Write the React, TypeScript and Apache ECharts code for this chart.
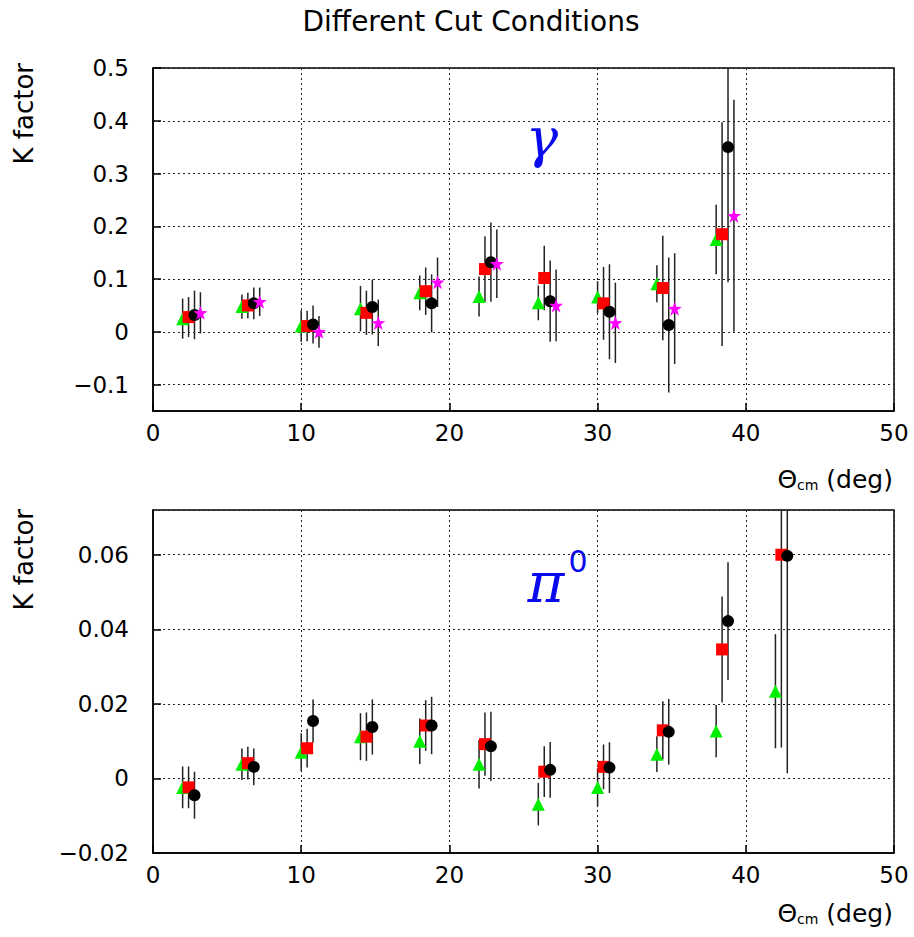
import React, { useEffect, useRef } from "react";
import * as echarts from "echarts";

// ---------- gamma panel data ----------
const gammaTriX = [2.0, 6.0, 10.0, 14.0, 18.0, 22.0, 26.0, 30.0, 34.0, 38.0];
const gammaTriY = [0.025, 0.048, 0.011, 0.044, 0.074, 0.067, 0.055, 0.066, 0.091, 0.175];
const gammaTriE = [0.038, 0.023, 0.030, 0.043, 0.033, 0.038, 0.033, 0.030, 0.035, 0.066];

const gammaSqX = [2.4, 6.4, 10.4, 14.4, 18.4, 22.4, 26.4, 30.4, 34.4, 38.4];
const gammaSqY = [0.028, 0.050, 0.011, 0.036, 0.077, 0.119, 0.102, 0.054, 0.083, 0.185];
const gammaSqE = [0.038, 0.024, 0.029, 0.042, 0.045, 0.062, 0.061, 0.069, 0.099, 0.212];

const gammaCirX = [2.8, 6.8, 10.8, 14.8, 18.8, 22.8, 26.8, 30.8, 34.8, 38.8];
const gammaCirY = [0.032, 0.054, 0.014, 0.047, 0.054, 0.132, 0.058, 0.038, 0.013, 0.350];
const gammaCirE = [0.046, 0.030, 0.036, 0.052, 0.055, 0.075, 0.077, 0.090, 0.128, 0.256];

const gammaStarX = [3.2, 7.2, 11.2, 15.2, 19.2, 23.2, 27.2, 31.2, 35.2, 39.2];
const gammaStarY = [0.036, 0.057, 0.000, 0.017, 0.094, 0.129, 0.050, 0.017, 0.044, 0.220];
const gammaStarE = [0.039, 0.027, 0.030, 0.044, 0.047, 0.065, 0.068, 0.076, 0.105, 0.220];

// ---------- pi0 panel data ----------
const piTriX = [2.0, 6.0, 10.0, 14.0, 18.0, 22.0, 26.0, 30.0, 34.0, 38.0, 42.0];
const piTriY = [-0.0024, 0.0038, 0.0070, 0.0112, 0.0100, 0.0038, -0.0069, -0.0024, 0.0065, 0.0127, 0.0234];
const piTriE = [0.0056, 0.0042, 0.0051, 0.0063, 0.0061, 0.0065, 0.0057, 0.0051, 0.0048, 0.0070, 0.0153];

const piSqX = [2.4, 6.4, 10.4, 14.4, 18.4, 22.4, 26.4, 30.4, 34.4, 38.4, 42.4];
const piSqY = [-0.0024, 0.0041, 0.0081, 0.0112, 0.0142, 0.0092, 0.0018, 0.0031, 0.0129, 0.0346, 0.0600];
const piSqE = [0.0056, 0.0044, 0.0052, 0.0065, 0.0068, 0.0085, 0.0068, 0.0060, 0.0078, 0.0142, 0.0517];

const piCirX = [2.8, 6.8, 10.8, 14.8, 18.8, 22.8, 26.8, 30.8, 34.8, 38.8, 42.8];
const piCirY = [-0.0045, 0.0031, 0.0154, 0.0138, 0.0142, 0.0086, 0.0023, 0.0029, 0.0125, 0.0422, 0.0597];
const piCirE = [0.0063, 0.0049, 0.0058, 0.0074, 0.0077, 0.0093, 0.0075, 0.0068, 0.0088, 0.0158, 0.0583];

// ---------- texts ----------
const titleText = "Different Cut Conditions";
const yTitle = "K factor";
const xTitleRich = "{a|Θ}{b|cm}{a| (deg)}";

const FONT = "DejaVu Sans";
const STAR =
  "path://M0,-10 L2.35,-3.24 L9.51,-3.09 L3.8,1.24 L5.88,8.09 L0,4 L-5.88,8.09 L-3.8,1.24 L-9.51,-3.09 L-2.35,-3.24 Z";

function errSeries(xs: number[], ys: number[], es: number[], idx: number) {
  return {
    type: "custom",
    xAxisIndex: idx,
    yAxisIndex: idx,
    z: 1,
    silent: true,
    data: xs.map((x, i) => [x, ys[i] - es[i], ys[i] + es[i]]),
    renderItem: (params: any, api: any) => {
      const x = api.value(0);
      const lo = api.coord([x, api.value(1)]);
      const hi = api.coord([x, api.value(2)]);
      const cs = params.coordSys;
      const top = Math.max(hi[1], cs.y);
      const bot = Math.min(lo[1], cs.y + cs.height);
      return {
        type: "line",
        shape: { x1: lo[0], y1: bot, x2: lo[0], y2: top },
        style: { stroke: "#222", lineWidth: 1.5 },
      };
    },
  };
}

function markSeries(xs: number[], ys: number[], idx: number, symbol: string, size: number, color: string, z: number) {
  return {
    type: "scatter",
    xAxisIndex: idx,
    yAxisIndex: idx,
    symbol,
    symbolSize: size,
    z,
    silent: true,
    itemStyle: { color, opacity: 1 },
    data: xs.map((x, i) => [x, ys[i]]),
  };
}

const minusFmt = (v: number) => {
  const s = String(parseFloat(v.toFixed(4)));
  return s.replace("-", "−");
};

function xAxisCfg(idx: number) {
  return {
    type: "value",
    gridIndex: idx,
    min: 0,
    max: 50,
    interval: 10,
    axisLine: { show: true, onZero: false, lineStyle: { color: "#000", width: 1.5 } },
    axisTick: { show: true, inside: true, length: 8, lineStyle: { color: "#000", width: 1.5 } },
    axisLabel: { fontFamily: FONT, fontSize: 23, color: "#000", margin: 10, showMinLabel: true, showMaxLabel: true },
    splitLine: { show: true, lineStyle: { color: "#222", width: 1, type: [2, 3] } },
  };
}

const textRich = {
  a: { fontFamily: FONT, fontSize: 25, lineHeight: 28, verticalAlign: "bottom" },
  b: { fontFamily: FONT, fontSize: 14, lineHeight: 28, verticalAlign: "bottom" },
};

export default function App() {
  const ref = useRef<HTMLDivElement>(null);
  useEffect(() => {
    if (!ref.current) return;
    const chart = echarts.init(ref.current, null, { renderer: "svg" });
    const option: any = {
      animation: false,
      backgroundColor: "#fff",
      grid: [
        { left: 153, top: 68, width: 741, height: 343, show: true, borderColor: "#000", borderWidth: 1.5, backgroundColor: "transparent" },
        { left: 153, top: 510, width: 741, height: 343, show: true, borderColor: "#000", borderWidth: 1.5, backgroundColor: "transparent" },
      ],
      xAxis: [xAxisCfg(0), xAxisCfg(1)],
      yAxis: [
        {
          type: "value",
          gridIndex: 0,
          min: -0.15,
          max: 0.5,
          axisLine: { show: true, onZero: false, lineStyle: { color: "#000", width: 1.5 } },
          axisTick: { show: true, inside: true, length: 8, lineStyle: { color: "#000", width: 1.5 } },
          axisLabel: { fontFamily: FONT, fontSize: 23, color: "#000", margin: 24, showMinLabel: false, formatter: minusFmt },
          splitLine: { show: true, lineStyle: { color: "#222", width: 1, type: [2, 3] } },
        },
        {
          type: "value",
          gridIndex: 1,
          min: -0.02,
          max: 0.072,
          interval: 0.02,
          axisLine: { show: true, onZero: false, lineStyle: { color: "#000", width: 1.5 } },
          axisTick: { show: true, inside: true, length: 8, lineStyle: { color: "#000", width: 1.5 } },
          axisLabel: { fontFamily: FONT, fontSize: 23, color: "#000", margin: 24, showMaxLabel: false, formatter: minusFmt },
          splitLine: { show: true, lineStyle: { color: "#222", width: 1, type: [2, 3] } },
        },
      ],
      series: [
        errSeries(gammaTriX, gammaTriY, gammaTriE, 0),
        errSeries(gammaSqX, gammaSqY, gammaSqE, 0),
        errSeries(gammaCirX, gammaCirY, gammaCirE, 0),
        errSeries(gammaStarX, gammaStarY, gammaStarE, 0),
        markSeries(gammaTriX, gammaTriY, 0, "triangle", 13, "#00ee00", 3),
        markSeries(gammaSqX, gammaSqY, 0, "rect", 12, "#ff0000", 4),
        markSeries(gammaCirX, gammaCirY, 0, "circle", 12, "#000000", 5),
        markSeries(gammaStarX, gammaStarY, 0, STAR, 14, "#ff00ff", 6),
        errSeries(piTriX, piTriY, piTriE, 1),
        errSeries(piSqX, piSqY, piSqE, 1),
        errSeries(piCirX, piCirY, piCirE, 1),
        markSeries(piTriX, piTriY, 1, "triangle", 13, "#00ee00", 3),
        markSeries(piSqX, piSqY, 1, "rect", 12, "#ff0000", 4),
        markSeries(piCirX, piCirY, 1, "circle", 12, "#000000", 5),
      ],
      graphic: [
        {
          type: "text",
          x: 471,
          y: 21,
          style: { text: titleText, fontFamily: FONT, fontSize: 28, fill: "#000", align: "center", verticalAlign: "middle" },
        },
        {
          type: "text",
          x: 24,
          y: 63,
          rotation: Math.PI / 2,
          style: { text: yTitle, fontFamily: FONT, fontSize: 26, fill: "#000", align: "right", verticalAlign: "middle" },
        },
        {
          type: "text",
          x: 24,
          y: 509,
          rotation: Math.PI / 2,
          style: { text: yTitle, fontFamily: FONT, fontSize: 26, fill: "#000", align: "right", verticalAlign: "middle" },
        },
        {
          type: "text",
          x: 893,
          y: 478,
          style: { text: xTitleRich, align: "right", verticalAlign: "middle", fill: "#000", rich: textRich },
        },
        {
          type: "text",
          x: 893,
          y: 912,
          style: { text: xTitleRich, align: "right", verticalAlign: "middle", fill: "#000", rich: textRich },
        },
        {
          type: "text",
          x: 542,
          y: 138,
          style: { text: "γ", fontFamily: "DejaVu Serif", fontStyle: "italic", fontSize: 54, fill: "#0a0aee", align: "center", verticalAlign: "middle" },
        },
        {
          type: "text",
          x: 546,
          y: 582,
          style: { text: "π", fontFamily: "DejaVu Serif", fontStyle: "italic", fontSize: 56, fill: "#0a0aee", align: "center", verticalAlign: "middle" },
        },
        {
          type: "text",
          x: 578,
          y: 561,
          style: { text: "0", fontFamily: FONT, fontSize: 30, fill: "#0a0aee", align: "center", verticalAlign: "middle" },
        },
      ],
    };
    chart.setOption(option);
    return () => chart.dispose();
  }, []);
  return <div ref={ref} style={{ position: "absolute", left: 0, top: 0, width: 914, height: 937 }} />;
}
